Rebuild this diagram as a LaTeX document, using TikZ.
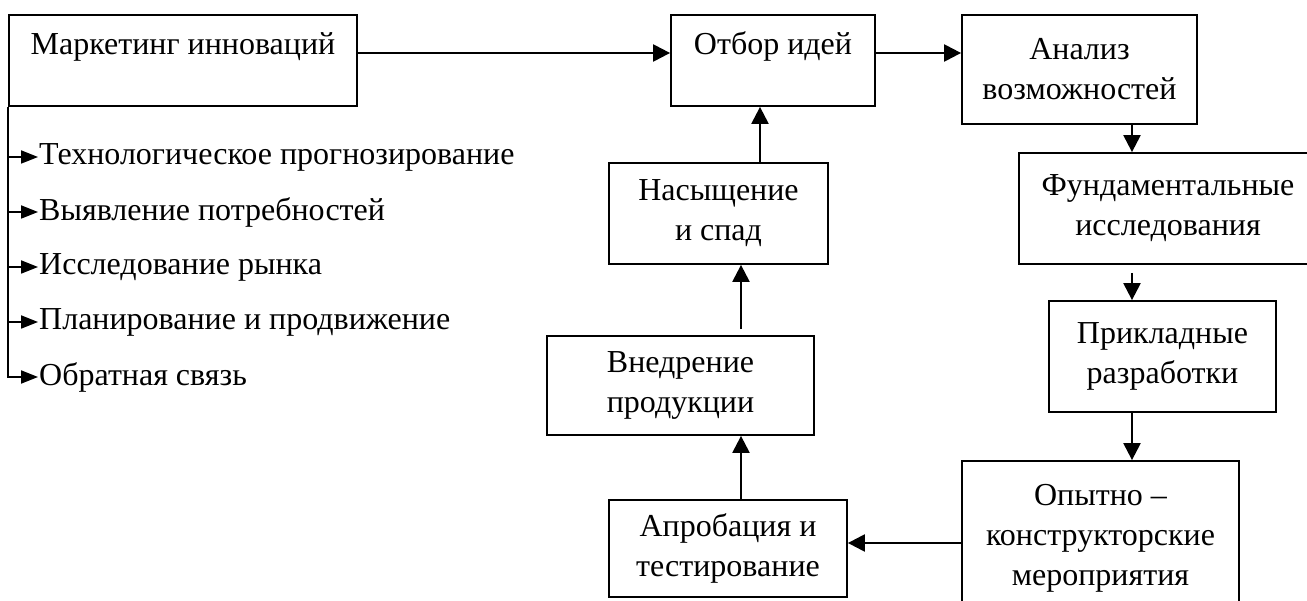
\documentclass[tikz,border=0pt]{standalone}
\usepackage{fontspec}
\setmainfont{Liberation Serif}
\usetikzlibrary{arrows.meta}

\begin{document}
\begin{tikzpicture}[x=1pt, y=-1pt,
    box/.style={draw, line width=1.8pt, align=center, inner sep=0pt, font=\fontsize{32}{40}\selectfont},
    arr/.style={line width=2.3pt, -{Triangle[length=17pt, width=17pt]}},
    arrsmall/.style={line width=1.8pt, -{Triangle[length=17pt, width=13pt]}},
    item/.style={anchor=west, inner sep=1pt, font=\fontsize{32}{40}\selectfont}]
    \useasboundingbox (0,0) rectangle (1307,601);

    % boxes of the cycle
    \node[box, minimum width=348pt, text height=40pt, text depth=51pt] (mkt) at (183,60.5) {Маркетинг инноваций};
    \node[box, minimum width=204pt, text height=40pt, text depth=51pt] (otbor) at (773,60.5) {Отбор идей};
    \node[box, minimum width=235pt, minimum height=109pt] (analiz) at (1079.5,69.5) {Анализ\\возможностей};
    \node[box, minimum width=298pt, minimum height=111pt] (fund) at (1168,208.5) {Фундаментальные\\исследования};
    \node[box, minimum width=227pt, minimum height=111pt] (prikl) at (1162.5,356.5) {Прикладные\\разработки};
    \node[box, minimum width=277pt, minimum height=154pt] (opyt) at (1100.5,538) {Опытно –\\конструкторские\\мероприятия};
    \node[box, minimum width=238pt, minimum height=97pt] (aprob) at (728,548.5) {Апробация и\\тестирование};
    \node[box, minimum width=267pt, minimum height=99pt] (vnedr) at (680.5,385.5) {Внедрение\\продукции};
    \node[box, minimum width=219pt, minimum height=101pt] (spad) at (718.5,213.5) {Насыщение\\и спад};

    % marketing list
    \node[item] (it1) at (38,157) {Технологическое прогнозирование};
    \node[item] (it2) at (38,212) {Выявление потребностей};
    \node[item] (it3) at (38,267) {Исследование рынка};
    \node[item] (it4) at (38,322) {Планирование и продвижение};
    \node[item] (it5) at (38,377) {Обратная связь};

    \coordinate (row1) at (0,53);
    \coordinate (row2) at (0,543);
    \coordinate (col1) at (1132,0);
    \coordinate (col2) at (741,0);
    \coordinate (col3) at (760,0);

    \draw[arr] (mkt.east |- row1) -- (otbor.west |- row1);
    \draw[arr] (otbor.east |- row1) -- (analiz.west |- row1);
    \draw[arr] (analiz.south -| col1) -- (fund.north -| col1);
    \draw[arr, shorten <=8pt] (fund.south -| col1) -- (prikl.north -| col1);
    \draw[arr] (prikl.south -| col1) -- (opyt.north -| col1);
    \draw[arr] (opyt.west |- row2) -- (aprob.east |- row2);
    \draw[arr] (aprob.north -| col2) -- (vnedr.south -| col2);
    \draw[arr, shorten <=6pt] (vnedr.north -| col2) -- (spad.south -| col2);
    \draw[arr] (spad.north -| col3) -- (otbor.south -| col3);

    \draw[arrsmall] (mkt.south west) |- (it5.west);
    \draw[arrsmall] (mkt.south west |- it1.west) -- (it1.west);
    \draw[arrsmall] (mkt.south west |- it2.west) -- (it2.west);
    \draw[arrsmall] (mkt.south west |- it3.west) -- (it3.west);
    \draw[arrsmall] (mkt.south west |- it4.west) -- (it4.west);
\end{tikzpicture}
\end{document}
